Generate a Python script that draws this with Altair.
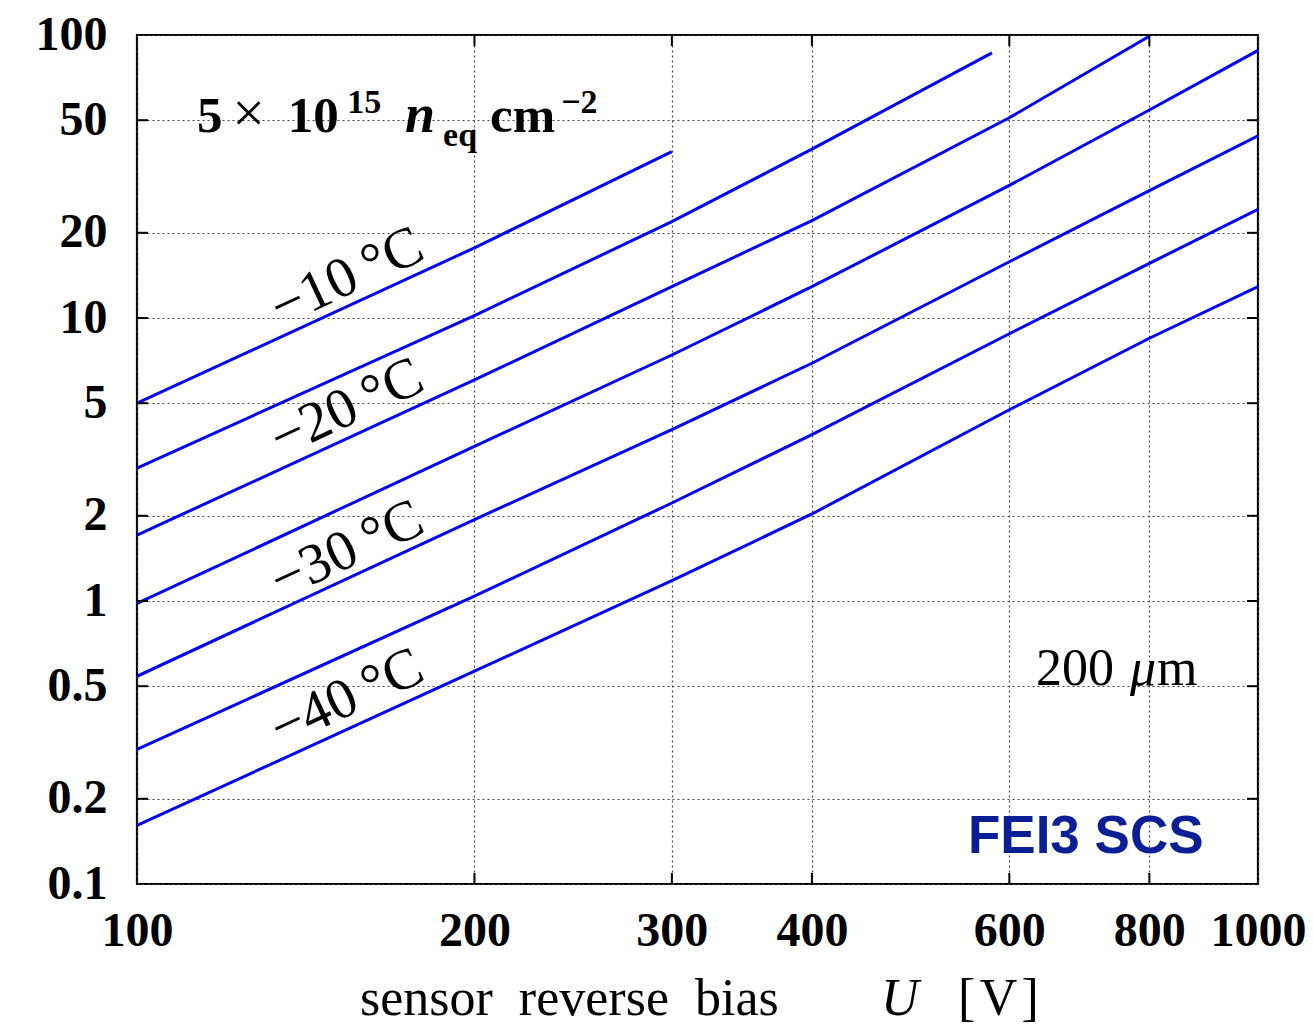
import altair as alt
import pandas as pd

# ---- data (log-log) ----
c1_u = [100, 200, 300]
c1_i = [5.0, 17.7, 38.7]
c2_u = [100, 200, 300, 400, 579]
c2_i = [2.95, 10.2, 21.9, 39.5, 86.5]
c3_u = [100, 200, 300, 400, 600, 800]
c3_i = [1.71, 6.04, 12.9, 22.1, 51.0, 99.0]
c4_u = [100, 200, 300, 400, 600, 800, 1000]
c4_i = [0.98, 3.52, 7.4, 12.9, 29.4, 54.3, 88.2]
c5_u = [100, 200, 300, 400, 600, 800, 1000]
c5_i = [0.542, 1.94, 4.03, 6.92, 15.8, 28.2, 44.0]
c6_u = [100, 200, 300, 400, 600, 800, 1000]
c6_i = [0.299, 1.04, 2.22, 3.87, 8.8, 15.6, 24.2]
c7_u = [100, 200, 300, 400, 600, 800, 1000]
c7_i = [0.161, 0.565, 1.18, 2.03, 4.74, 8.48, 12.9]

x_ticks = [100, 200, 300, 400, 600, 800, 1000]
y_ticks = [0.1, 0.2, 0.5, 1, 2, 5, 10, 20, 50, 100]
x_inner_ticks = [200, 300, 400, 600, 800]
y_inner_ticks = [0.2, 0.5, 1, 2, 5, 10, 20, 50]

temp_labels = ["\u221210\u2009\u00b0C", "\u221220\u2009\u00b0C", "\u221230\u2009\u00b0C", "\u221240\u2009\u00b0C"]
temp_u = [153.9, 153.9, 153.9, 153.9]
temp_i = [13.96, 4.81, 1.514, 0.454]

fluence_main = ["5", "10", "cm"]
fluence_main_u = [113.1, 136.3, 206.5]
fluence_main_i = [45.4, 45.4, 45.4]
fluence_times = ["\u00d7"]
fluence_times_u = [121.6]
fluence_times_i = [45.4]
fluence_small = ["15", "eq", "\u22122"]
fluence_small_u = [154.0, 187.5, 239.0]
fluence_small_i = [53.0, 40.5, 53.0]
fluence_ital = ["n"]
fluence_ital_u = [173.4]
fluence_ital_i = [45.4]

thick_txt = ["200", "m"]
thick_u = [633.9, 812.6]
thick_i = [0.505, 0.505]
thick_ital = ["\u03bc"]
thick_ital_u = [768.9]
thick_ital_i = [0.505]

brand = ["FEI3 SCS"]
brand_u = [551.1]
brand_i = [0.1287]

xtitle_reg = ["sensor\u00a0\u00a0reverse\u00a0\u00a0bias", "[\u200aV\u200a]"]
xtitle_reg_u = [158.1, 540.0]
xtitle_ital = ["U"]
xtitle_ital_u = [461.0]

# ---- build tables ----
rows = []
for name, us, vals in [("c1", c1_u, c1_i), ("c2", c2_u, c2_i), ("c3", c3_u, c3_i),
                       ("c4", c4_u, c4_i), ("c5", c5_u, c5_i), ("c6", c6_u, c6_i),
                       ("c7", c7_u, c7_i)]:
    for u, v in zip(us, vals):
        rows.append({"curve": name, "U": u, "I": v})
curves = pd.DataFrame(rows)

W, H = 1121, 849
SERIF = "Liberation Serif"

xs = alt.Scale(type="log", domain=[100, 1000], nice=False)
ys = alt.Scale(type="log", domain=[0.1, 100], nice=False)

common_axis = dict(
    title=None, labelFont=SERIF, labelFontWeight="bold",
    labelColor="black", ticks=False, tickSize=0, domain=False, grid=True,
    gridDash=[2, 3], gridColor="#444444", gridWidth=1.2,
    labelOverlap=False, labelFlush=False, format="~g",
)
x_axis = alt.Axis(values=x_ticks, labelPadding=23, labelFontSize=48, **common_axis)
y_axis = alt.Axis(values=y_ticks, labelPadding=30, labelFontSize=48, **common_axis)


def X():
    return alt.X("U:Q", scale=xs, axis=x_axis)


def Y():
    return alt.Y("I:Q", scale=ys, axis=y_axis)


lines = alt.Chart(curves).mark_line(color="#0000f5", strokeWidth=3, clip=True).encode(
    x=X(), y=Y(), detail="curve:N", order="U:Q",
)

xt = pd.DataFrame({"U": x_inner_ticks})
yt = pd.DataFrame({"I": y_inner_ticks})
tick_style = dict(color="black", strokeWidth=2)
ticks_bottom = alt.Chart(xt).mark_rule(**tick_style).encode(x=X(), y=alt.value(H), y2=alt.value(H - 11))
ticks_top = alt.Chart(xt).mark_rule(**tick_style).encode(x=X(), y=alt.value(0), y2=alt.value(11))
ticks_left = alt.Chart(yt).mark_rule(**tick_style).encode(y=Y(), x=alt.value(0), x2=alt.value(11))
ticks_right = alt.Chart(yt).mark_rule(**tick_style).encode(y=Y(), x=alt.value(W), x2=alt.value(W - 11))


def text_layer(labels, us, iss, **kw):
    df = pd.DataFrame({"U": us, "I": iss, "label": labels})
    return alt.Chart(df).mark_text(**kw).encode(x=X(), y=Y(), text="label:N")


temps = text_layer(temp_labels, temp_u, temp_i, font=SERIF, fontSize=57, angle=335,
                   align="center", baseline="middle", color="black")
fl_main = text_layer(fluence_main, fluence_main_u, fluence_main_i, font=SERIF, fontSize=51,
                     fontWeight="bold", align="left", baseline="alphabetic", color="black")
fl_times = text_layer(fluence_times, fluence_times_u, fluence_times_i, font=SERIF, fontSize=58,
                      align="left", baseline="alphabetic", color="black")
fl_small = text_layer(fluence_small, fluence_small_u, fluence_small_i, font=SERIF, fontSize=34,
                      fontWeight="bold", align="left", baseline="alphabetic", color="black")
fl_ital = text_layer(fluence_ital, fluence_ital_u, fluence_ital_i, font=SERIF, fontSize=54,
                     fontWeight="bold", fontStyle="italic", align="left", baseline="alphabetic",
                     color="black")
th_txt = text_layer(thick_txt, thick_u, thick_i, font=SERIF, fontSize=52, align="left",
                    baseline="alphabetic", color="black")
th_ital = text_layer(thick_ital, thick_ital_u, thick_ital_i, font=SERIF, fontSize=52,
                     fontStyle="italic", align="left", baseline="alphabetic", color="black")
brand_layer = text_layer(brand, brand_u, brand_i, font="Liberation Sans", fontSize=53,
                         fontWeight="bold", align="left", baseline="alphabetic", color="#0a1e96")

xt_reg_df = pd.DataFrame({"U": xtitle_reg_u, "label": xtitle_reg})
xt_it_df = pd.DataFrame({"U": xtitle_ital_u, "label": xtitle_ital})
xtitle_a = alt.Chart(xt_reg_df).mark_text(font=SERIF, fontSize=52, align="left",
                                          baseline="alphabetic", color="black").encode(
    x=X(), y=alt.value(980), text="label:N")
xtitle_b = alt.Chart(xt_it_df).mark_text(font=SERIF, fontSize=52, fontStyle="italic",
                                         align="left", baseline="alphabetic", color="black").encode(
    x=X(), y=alt.value(980), text="label:N")

chart = alt.layer(
    lines, ticks_bottom, ticks_top, ticks_left, ticks_right,
    temps, fl_main, fl_times, fl_small, fl_ital, th_txt, th_ital, brand_layer, xtitle_a, xtitle_b,
).properties(
    width=W, height=H,
    autosize=alt.AutoSizeParams(type="none"),
    padding={"left": 129, "top": 27, "right": 47, "bottom": 143},
    background="white",
).configure_view(
    stroke="black", strokeWidth=2.2
)

chart.save("out.html", embed_options={"renderer": "svg", "actions": False})
